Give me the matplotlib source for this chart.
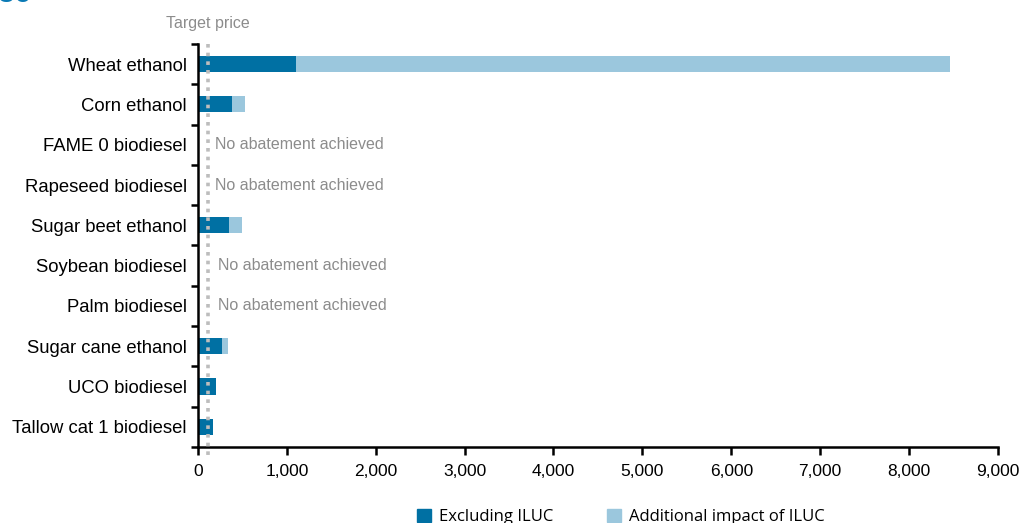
import matplotlib.pyplot as plt
from matplotlib.patches import Patch

plt.rcParams["font.family"] = ["Liberation Sans", "DejaVu Sans"]

categories = [
    "Wheat ethanol",
    "Corn ethanol",
    "FAME 0 biodiesel",
    "Rapeseed biodiesel",
    "Sugar beet ethanol",
    "Soybean biodiesel",
    "Palm biodiesel",
    "Sugar cane ethanol",
    "UCO biodiesel",
    "Tallow cat 1 biodiesel",
]
excluding_iluc = [1100, 380, None, None, 350, None, None, 265, 200, 165]
iluc_extra = [7360, 150, None, None, 145, None, None, 70, 0, 0]
target_price = 110
no_abatement_note = "No abatement achieved"

DARK = "#0070a3"
LIGHT = "#9bc7dd"
GREY = "#8c8c8c"

fig = plt.figure(figsize=(10.23, 5.23), dpi=100)
ax = fig.add_axes([0.1935, 0.1453, 0.7820, 0.7706])

n = len(categories)
ypos = list(range(n))[::-1]
note_offsets = {2: 190, 3: 190, 5: 220, 6: 220}
for y, base, extra, i in zip(ypos, excluding_iluc, iluc_extra, range(n)):
    if base is None:
        ax.text(note_offsets[i], y, no_abatement_note, color=GREY, fontsize=11.5,
                va="center", ha="left")
        continue
    ax.barh(y, base, height=0.4, color=DARK, zorder=2)
    if extra:
        ax.barh(y, extra, left=base, height=0.4, color=LIGHT, zorder=2)

# target price marker
ax.plot([target_price, target_price], [9.5, -0.75], linestyle=(0, (1, 1.4)),
        color="#bdbdbd", linewidth=2.6, zorder=3, clip_on=False)
ax.text(target_price, 10.0, "Target price", color=GREY, fontsize=11.5,
        ha="center", va="center")

ax.set_xlim(0, 9000)
ax.set_ylim(-0.5, n - 0.5)
ax.set_xticks(range(0, 9001, 1000))
ax.set_xticklabels([f"{v:,}" for v in range(0, 9001, 1000)], fontsize=12.5)
ax.set_yticks(ypos)
ax.set_yticklabels(categories, fontsize=13.3)
ax.tick_params(axis="y", which="major", length=0, pad=8)
ax.set_yticks([y - 0.5 for y in range(n + 1)], minor=True)
ax.tick_params(axis="y", which="minor", length=5, width=1.8, direction="out")
ax.tick_params(axis="x", length=6, width=1.8, direction="out", pad=6)

for side in ["top", "right"]:
    ax.spines[side].set_visible(False)
for side in ["left", "bottom"]:
    ax.spines[side].set_linewidth(1.8)

handles = [Patch(color=DARK), Patch(color=LIGHT)]
fig.legend(handles, ["Excluding ILUC", "Additional impact of ILUC"],
           loc="center", bbox_to_anchor=(0.607, 0.012), ncol=2, frameon=False,
           handlelength=0.85, handleheight=0.85, handletextpad=0.5,
           columnspacing=3.2, prop={"family": "Open Sans", "size": 12})

# page number of the heading, mostly above the canvas
fig.text(-0.003, 1 - 2.5 / 523, "36", color="#0a7ab5", fontsize=22,
         fontweight="bold", ha="left", va="baseline")

fig.savefig("out.png", dpi=100)
